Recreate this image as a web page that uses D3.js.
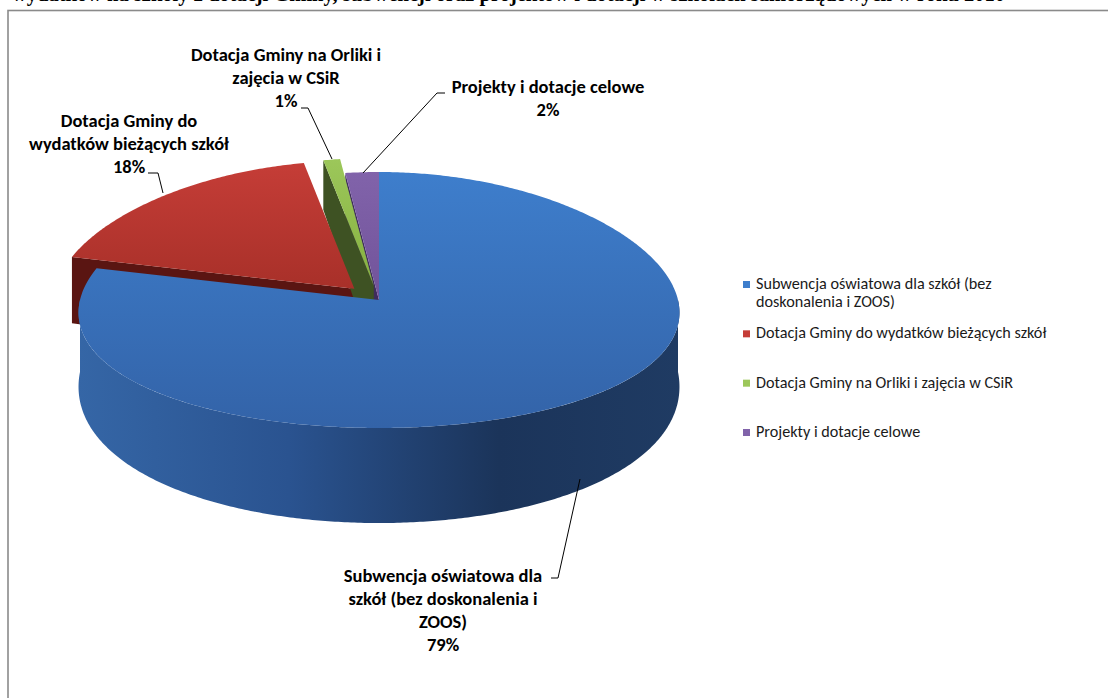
<!DOCTYPE html>
<html>
<head>
<meta charset="utf-8">
<script src="https://cdn.jsdelivr.net/npm/d3@7"></script>
<style>
  body { margin: 0; background: #fff; }
  svg { display: block; }
</style>
</head>
<body>
<svg id="chart" width="1108" height="698"></svg>
<script>
// chart data
const categories = [
  'Subwencja oświatowa dla szkół (bez doskonalenia i ZOOS)',
  'Dotacja Gminy do wydatków bieżących szkół',
  'Dotacja Gminy na Orliki i zajęcia w CSiR',
  'Projekty i dotacje celowe'
];
const shares = [79, 18, 1, 2];
const labelLines = [
  ['Subwencja oświatowa dla', 'szkół (bez doskonalenia i', 'ZOOS)'],
  ['Dotacja Gminy do', 'wydatków bieżących szkół'],
  ['Dotacja Gminy na Orliki i', 'zajęcia w CSiR'],
  ['Projekty i dotacje celowe']
];
const legendLines = [
  ['Subwencja oświatowa dla szkół (bez', 'doskonalenia i ZOOS)'],
  ['Dotacja Gminy do wydatków bieżących szkół'],
  ['Dotacja Gminy na Orliki i zajęcia w CSiR'],
  ['Projekty i dotacje celowe']
];
const titleText = 'wydatków na szkoły z dotacji Gminy, subwencji oraz projektów i dotacji w szkołach samorządowych w roku 2010';

// styling / layout
const topColors  = [['#3e7ecc', '#3363a8'], ['#c53d37', '#a83029'], ['#9cc75a', '#86b040'], ['#8163aa', '#71539a']];
const faceColors = ['#24477c', '#5a1512', '#3e5223', '#3f2c5e'];
const explode = [0, 36, 33, 0];               // pixels along the slice middle
const sideOrder = [3, 1, 2, 0];                // back to front
// fake perspective: the back is a bit narrower and thinner than the front
const pie3d = { cx: 379, cy: 300, rx: 299, ry: 128, depth: 72, persp: 0.32, perspX: 0.1 };
// label block anchors (centre x, first baseline) and leader polylines
const labelPos = [[443, 582], [129, 127], [286, 61], [548, 93]];
const leaders = [
  [[551, 578], [558, 578], [580, 479]],
  [[148, 173], [158, 173], [163, 193]],
  [[301, 108], [308, 108], [332, 159]],
  [[445, 93], [437, 93], [363, 173]]
];
const lineGap = 23;

const svg = d3.select('#chart');
const defs = svg.append('defs');

// cut-off title line at the very top of the page
svg.append('text')
  .attr('x', 12).attr('y', 1)
  .attr('font-family', '"Liberation Serif", "Times New Roman", serif')
  .attr('font-weight', 'bold')
  .attr('font-size', 20.5)
  .attr('fill', '#000')
  .text(titleText);

// chart frame (runs off the right and bottom)
svg.append('rect')
  .attr('x', 8).attr('y', 10.5)
  .attr('width', 1200).attr('height', 800)
  .attr('fill', '#fff')
  .attr('stroke', '#8a8a8a')
  .attr('stroke-width', 1.6);

// gradients
topColors.forEach((c, i) => {
  const g = defs.append('linearGradient').attr('id', 'top' + i)
    .attr('x1', 0).attr('y1', 0).attr('x2', 0).attr('y2', 1);
  g.append('stop').attr('offset', '0%').attr('stop-color', c[0]);
  g.append('stop').attr('offset', '100%').attr('stop-color', c[1]);
});
const sideGrad = defs.append('linearGradient').attr('id', 'blueSide')
  .attr('x1', 0).attr('y1', 0).attr('x2', 1).attr('y2', 0);
[['0%', '#3566a6'], ['35%', '#2a5390'], ['70%', '#1b345a'], ['100%', '#1f3b63']]
  .forEach(s => sideGrad.append('stop').attr('offset', s[0]).attr('stop-color', s[1]));

const arcs = d3.pie().sort(null).startAngle(0).endAngle(2 * Math.PI)(shares);

// offset of an exploded slice
function offsetOf(i) {
  const mid = (arcs[i].startAngle + arcs[i].endAngle) / 2;
  return [explode[i] * Math.sin(mid), -explode[i] * Math.cos(mid) * pie3d.ry / pie3d.rx];
}
function pt(angle, r, z, off) {
  const v = -r * Math.cos(angle);               // -1 back .. +1 front
  const zz = z ? pie3d.depth * (1 + pie3d.persp * v) : 0;
  return [pie3d.cx + off[0] + r * pie3d.rx * Math.sin(angle) * (1 + pie3d.perspX * v),
          pie3d.cy + off[1] + v * pie3d.ry + zz];
}
function arcPoints(a0, a1, z, off) {
  const n = Math.max(2, Math.ceil(Math.abs(a1 - a0) / 0.01));
  return d3.range(n + 1).map(k => pt(a0 + (a1 - a0) * k / n, 1, z, off));
}
const line = d3.line();

const sideLayer = svg.append('g');
const topLayer = svg.append('g');

sideOrder.forEach(i => {
  const d = arcs[i], off = offsetOf(i);
  const g = sideLayer.append('g');
  // radial faces that look towards the viewer
  [[d.startAngle, -Math.sin(d.startAngle)], [d.endAngle, Math.sin(d.endAngle)]].forEach(([a, facing]) => {
    if (facing <= 0.001) return;
    g.append('path')
      .attr('d', line([pt(a, 0, 0, off), pt(a, 1, 0, off), pt(a, 1, 1, off), pt(a, 0, 1, off)]) + 'Z')
      .attr('fill', faceColors[i]);
  });
  // outer wall, front half only
  const b0 = Math.max(d.startAngle, Math.PI / 2), b1 = Math.min(d.endAngle, 3 * Math.PI / 2);
  if (b1 > b0) {
    const pts = arcPoints(b0, b1, 0, off).concat(arcPoints(b1, b0, 1, off));
    g.append('path')
      .attr('d', line(pts) + 'Z')
      .attr('fill', i === 0 ? 'url(#blueSide)' : faceColors[i]);
  }
});

arcs.forEach((d, i) => {
  const off = offsetOf(i);
  const pts = [pt(0, 0, 0, off)].concat(arcPoints(d.startAngle, d.endAngle, 0, off));
  topLayer.append('path')
    .attr('d', line(pts) + 'Z')
    .attr('fill', `url(#top${i})`);
});

// leader lines
svg.append('g').selectAll('path')
  .data(leaders)
  .join('path')
    .attr('d', d => line(d))
    .attr('fill', 'none')
    .attr('stroke', '#000')
    .attr('stroke-width', 1);

// data labels
const pct = d3.format('.0%');
const labels = svg.append('g')
  .attr('font-family', 'Carlito, Calibri, Lato, sans-serif')
  .attr('font-weight', 'bold')
  .attr('font-size', 18.5)
  .attr('fill', '#000')
  .attr('text-anchor', 'middle');
shares.forEach((v, i) => {
  const lines = labelLines[i].concat([pct(v / d3.sum(shares))]);
  const t = labels.append('text');
  lines.forEach((s, k) => {
    t.append('tspan')
      .attr('x', labelPos[i][0])
      .attr('y', labelPos[i][1] + k * lineGap)
      .text(s);
  });
});

// legend
const legendY = d3.scaleLinear().domain([0, categories.length - 1]).range([285, 433]);
const legend = svg.append('g')
  .attr('font-family', 'Carlito, Calibri, Lato, sans-serif')
  .attr('font-size', 16.2)
  .attr('fill', '#1a1a1a');
categories.forEach((c, i) => {
  const y = legendY(i);
  legend.append('rect')
    .attr('x', 743).attr('y', y - 4)
    .attr('width', 7).attr('height', 7)
    .attr('fill', topColors[i][0]);
  const t = legend.append('text').attr('dominant-baseline', 'middle');
  legendLines[i].forEach((s, k) => {
    t.append('tspan').attr('x', 756).attr('y', y + k * 18).text(s);
  });
});
</script>
</body>
</html>
